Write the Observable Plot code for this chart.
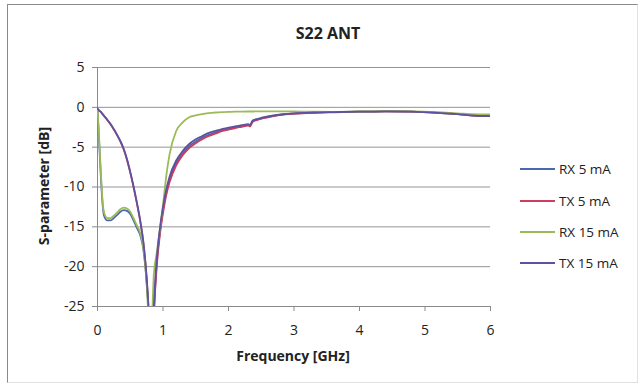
<!DOCTYPE html>
<html>
<head>
<meta charset="utf-8">
<script src="https://cdn.jsdelivr.net/npm/d3@7"></script>
<script src="https://cdn.jsdelivr.net/npm/@observablehq/plot@0.6"></script>
<style>
  html, body { margin: 0; padding: 0; background: #fff; }
  #wrap { position: relative; width: 640px; height: 386px; font-family: "Open Sans", "Noto Sans", sans-serif; color: #222; }
  #wrap svg { position: absolute; left: 0; top: 0; }
  .frame { position: absolute; left: 7px; top: 4px; width: 631px; height: 379px;
           border-left: 1px solid #8a8a8a; border-top: 1px solid #8a8a8a;
           border-right: 1px solid #e2e2e2; border-bottom: 1px solid #e2e2e2; box-sizing: border-box; }
  .title { position: absolute; left: 0; width: 656px; top: 22px; text-align: center; font-weight: bold; font-size: 16px; }
  .xlab { position: absolute; left: 193px; width: 200px; top: 346px; text-align: center; font-weight: bold; font-size: 14px; }
  .ylab { position: absolute; left: 43px; top: 186px; transform: translate(-50%, -50%) rotate(-90deg); white-space: nowrap; font-weight: bold; font-size: 14px; }
  .legend { position: absolute; left: 520px; top: 0; font-size: 13.5px; }
  .item { position: absolute; left: 0; white-space: nowrap; display: flex; align-items: center; }
  .item .sw { display: inline-block; width: 35px; height: 2px; margin-right: 4px; }
</style>
</head>
<body>
<div id="wrap">
  <div class="frame"></div>
  <div class="title">S22 ANT</div>
  <div class="xlab">Frequency [GHz]</div>
  <div class="ylab">S-parameter [dB]</div>
  <div class="legend" id="legend"></div>
</div>
<script>
// Frequency grid (GHz)
const freq = [0, 0.02, 0.05, 0.08, 0.1, 0.15, 0.2, 0.25, 0.3, 0.35, 0.4, 0.45, 0.5, 0.55, 0.6, 0.65, 0.7, 0.75, 0.78, 0.8, 0.82, 0.84, 0.86, 0.9, 0.95, 1.0, 1.05, 1.1, 1.2, 1.3, 1.4, 1.5, 1.6, 1.7, 1.8, 1.9, 2.0, 2.1, 2.2, 2.3, 2.33, 2.37, 2.45, 2.6, 2.8, 3.0, 3.3, 3.6, 4.0, 4.4, 4.8, 5.2, 5.5, 5.7, 6.0];

// Series values (dB)
const rx5 = [-0.3, -3.5, -8.5, -12.4, -13.6, -14.2, -14.2, -13.9, -13.5, -13.1, -12.9, -13.0, -13.4, -14.2, -15.1, -16.0, -17.8, -22, -26, -31, -36, -31.5, -26, -20, -15.8, -12.9, -10.7, -9.1, -7.0, -5.8, -4.9, -4.3, -3.8, -3.45, -3.15, -2.9, -2.7, -2.5, -2.35, -2.2, -2.3, -1.7, -1.5, -1.2, -0.92, -0.78, -0.66, -0.6, -0.55, -0.5, -0.55, -0.7, -0.85, -1.0, -1.1];
const tx5 = [-0.2, -0.4, -0.6, -0.9, -1.1, -1.6, -2.15, -2.8, -3.5, -4.3, -5.3, -6.6, -8.2, -10.0, -12.0, -14.2, -17.0, -21.5, -25.5, -30, -36, -32, -26.5, -20.5, -16.2, -13.3, -11.0, -9.4, -7.3, -6.0, -5.1, -4.5, -4.0, -3.6, -3.3, -3.0, -2.8, -2.6, -2.45, -2.3, -2.4, -1.8, -1.55, -1.25, -0.95, -0.8, -0.68, -0.62, -0.55, -0.5, -0.55, -0.7, -0.85, -1.0, -1.1];
const rx15 = [-0.2, -3.0, -8.0, -12.0, -13.2, -13.9, -13.9, -13.6, -13.2, -12.8, -12.6, -12.7, -13.1, -13.9, -14.8, -15.7, -17.6, -22, -27, -31.5, -30, -25, -21, -18.5, -15.5, -12.3, -8.6, -5.9, -3.0, -1.9, -1.25, -1.0, -0.85, -0.72, -0.65, -0.6, -0.57, -0.55, -0.53, -0.52, -0.52, -0.52, -0.5, -0.5, -0.5, -0.52, -0.55, -0.56, -0.52, -0.47, -0.5, -0.62, -0.75, -0.85, -0.9];
const tx15 = [-0.1, -0.35, -0.55, -0.85, -1.05, -1.55, -2.1, -2.75, -3.45, -4.25, -5.2, -6.5, -8.1, -9.9, -11.9, -14.1, -16.9, -21.3, -25.3, -29.5, -35, -31, -25.5, -19.6, -15.4, -12.5, -10.3, -8.7, -6.7, -5.5, -4.6, -4.0, -3.6, -3.2, -2.95, -2.75, -2.55, -2.4, -2.25, -2.1, -2.2, -1.65, -1.45, -1.15, -0.9, -0.75, -0.65, -0.6, -0.55, -0.5, -0.55, -0.7, -0.85, -1.0, -1.1];

const seriesNames = ["RX 5 mA", "TX 5 mA", "RX 15 mA", "TX 15 mA"];
const seriesColors = ["#4a68ad", "#cc3d5e", "#9bbb59", "#5c52a0"];
const seriesValues = [rx5, tx5, rx15, tx15];

const xTicks = [0, 1, 2, 3, 4, 5, 6];
const yTicks = [5, 0, -5, -10, -15, -20, -25];

const rows = [];
seriesNames.forEach((name, i) => {
  freq.forEach((f, j) => rows.push({series: name, f, v: seriesValues[i][j]}));
});

const chart = Plot.plot({
  width: 640,
  height: 386,
  marginLeft: 97,
  marginRight: 150,
  marginTop: 67,
  marginBottom: 80,
  style: {fontFamily: "'Open Sans', 'Noto Sans', sans-serif", fontSize: "14px", color: "#222", background: "transparent"},
  x: {domain: [0, 6]},
  y: {domain: [-25, 5]},
  color: {domain: seriesNames, range: seriesColors},
  marks: [
    Plot.ruleY(yTicks.filter(d => d !== -25), {stroke: "#959595", strokeWidth: 1}),
    Plot.axisX(xTicks, {tickSize: 5, tickPadding: 14, stroke: "#8a8a8a", fill: "#222", label: null, fontSize: 14}),
    Plot.axisY(yTicks, {tickSize: 5, tickPadding: 8, stroke: "#8a8a8a", fill: "#222", label: null, fontSize: 14, tickFormat: d => String(d)}),
    Plot.ruleX([0], {stroke: "#8a8a8a"}),
    Plot.ruleY([-25], {stroke: "#8a8a8a"}),
    Plot.line(rows, {x: "f", y: "v", z: "series", stroke: "series", strokeWidth: 1.8, curve: "monotone-x", clip: true})
  ]
});
document.getElementById("wrap").appendChild(chart);

// Legend
const legendTops = [169, 201, 232, 263];
const legend = document.getElementById("legend");
seriesNames.forEach((name, i) => {
  const item = document.createElement("div");
  item.className = "item";
  item.style.top = (legendTops[i] - 10) + "px";
  item.style.height = "20px";
  const sw = document.createElement("span");
  sw.className = "sw";
  sw.style.background = seriesColors[i];
  const t = document.createElement("span");
  t.textContent = name;
  item.appendChild(sw);
  item.appendChild(t);
  legend.appendChild(item);
});
</script>
</body>
</html>
